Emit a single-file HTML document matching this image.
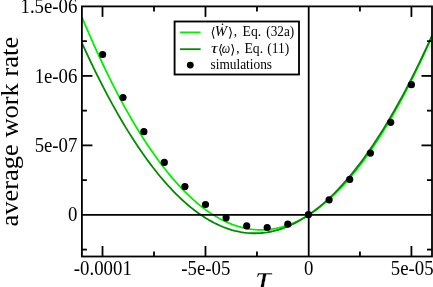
<!DOCTYPE html>
<html><head><meta charset="utf-8"><title>plot</title>
<style>
html,body{margin:0;padding:0;background:#fff;}
body{width:433px;height:287px;overflow:hidden;position:relative;}
svg{position:absolute;left:0;top:0;display:block;}
text{font-family:"Liberation Serif","DejaVu Serif",serif;fill:#000;}
.tk{font-size:18.8px;}
.lg{font-size:13px;}
</style></head><body>
<svg width="433" height="287" viewBox="0 0 433 287">
<rect x="0" y="0" width="433" height="287" fill="#fff"/>
<defs><clipPath id="c"><rect x="81.9" y="6.4" width="350.1" height="250.1"/></clipPath></defs>

<g clip-path="url(#c)" fill="none" stroke-width="1.8" stroke-linejoin="round">
<path d="M82.03,17.37 L84.97,24.35 L87.91,31.22 L90.86,37.96 L93.80,44.59 L96.74,51.09 L99.68,57.48 L102.62,63.75 L105.56,69.90 L108.50,75.94 L111.44,81.85 L114.38,87.65 L117.33,93.33 L120.27,98.89 L123.21,104.34 L126.15,109.67 L129.09,114.88 L132.03,119.97 L134.97,124.95 L137.91,129.81 L140.85,134.55 L143.80,139.18 L146.74,143.69 L149.68,148.08 L152.62,152.36 L155.56,156.53 L158.50,160.57 L161.44,164.50 L164.38,168.32 L167.33,172.02 L170.27,175.61 L173.21,179.07 L176.15,182.43 L179.09,185.67 L182.03,188.79 L184.97,191.80 L187.91,194.69 L190.85,197.47 L193.80,200.14 L196.74,202.69 L199.68,205.12 L202.62,207.44 L205.56,209.65 L208.50,211.74 L211.44,213.72 L214.38,215.58 L217.32,217.33 L220.27,218.96 L223.21,220.48 L226.15,221.89 L229.09,223.18 L232.03,224.36 L234.97,225.42 L237.91,226.37 L240.85,227.21 L243.79,227.93 L246.74,228.54 L249.68,229.03 L252.62,229.41 L255.56,229.68 L258.50,229.83 L261.44,229.87 L264.38,229.79 L267.32,229.60 L270.27,229.30 L273.21,228.88 L276.15,228.35 L279.09,227.71 L282.03,226.95 L284.97,226.08 L287.91,225.09 L290.85,223.99 L293.79,222.78 L296.74,221.45 L299.68,220.01 L302.62,218.45 L305.56,216.78 L308.50,215.00 L311.44,213.10 L314.38,211.09 L317.32,208.96 L320.26,206.72 L323.21,204.37 L326.15,201.90 L329.09,199.32 L332.03,196.62 L334.97,193.81 L337.91,190.88 L340.85,187.84 L343.79,184.68 L346.73,181.41 L349.68,178.02 L352.62,174.52 L355.56,170.90 L358.50,167.17 L361.44,163.33 L364.38,159.37 L367.32,155.29 L370.26,151.09 L373.21,146.79 L376.15,142.36 L379.09,137.82 L382.03,133.17 L384.97,128.39 L387.91,123.51 L390.85,118.50 L393.79,113.38 L396.73,108.14 L399.68,102.79 L402.62,97.32 L405.56,91.73 L408.50,86.03 L411.44,80.21 L414.38,74.27 L417.32,68.21 L420.26,62.04 L423.20,55.75 L426.15,49.34 L429.09,42.81 L432.03,36.16" stroke="#00f000"/>
<path d="M82.03,43.22 L84.97,49.66 L87.91,55.98 L90.86,62.20 L93.80,68.31 L96.74,74.30 L99.68,80.18 L102.62,85.95 L105.56,91.61 L108.50,97.16 L111.44,102.60 L114.38,107.92 L117.33,113.13 L120.27,118.24 L123.21,123.23 L126.15,128.11 L129.09,132.87 L132.03,137.53 L134.97,142.08 L137.91,146.51 L140.85,150.84 L143.80,155.05 L146.74,159.15 L149.68,163.14 L152.62,167.02 L155.56,170.79 L158.50,174.45 L161.44,178.00 L164.38,181.44 L167.33,184.76 L170.27,187.98 L173.21,191.08 L176.15,194.08 L179.09,196.96 L182.03,199.74 L184.97,202.40 L187.91,204.95 L190.85,207.39 L193.80,209.73 L196.74,211.95 L199.68,214.06 L202.62,216.06 L205.56,217.95 L208.50,219.73 L211.44,221.40 L214.38,222.96 L217.32,224.41 L220.27,225.75 L223.21,226.98 L226.15,228.10 L229.09,229.11 L232.03,230.02 L234.97,230.81 L237.91,231.49 L240.85,232.06 L243.79,232.52 L246.74,232.87 L249.68,233.12 L252.62,233.25 L255.56,233.27 L258.50,233.19 L261.44,232.99 L264.38,232.68 L267.32,232.27 L270.27,231.75 L273.21,231.11 L276.15,230.37 L279.09,229.52 L282.03,228.56 L284.97,227.49 L287.91,226.31 L290.85,225.02 L293.79,223.62 L296.74,222.12 L299.68,220.50 L302.62,218.78 L305.56,216.94 L308.50,215.00 L311.44,212.95 L314.38,210.79 L317.32,208.52 L320.26,206.14 L323.21,203.66 L326.15,201.06 L329.09,198.36 L332.03,195.55 L334.97,192.63 L337.91,189.60 L340.85,186.46 L343.79,183.22 L346.73,179.86 L349.68,176.40 L352.62,172.83 L355.56,169.15 L358.50,165.36 L361.44,161.47 L364.38,157.47 L367.32,153.35 L370.26,149.13 L373.21,144.81 L376.15,140.37 L379.09,135.83 L382.03,131.18 L384.97,126.42 L387.91,121.55 L390.85,116.57 L393.79,111.49 L396.73,106.30 L399.68,101.00 L402.62,95.60 L405.56,90.08 L408.50,84.46 L411.44,78.73 L414.38,72.90 L417.32,66.96 L420.26,60.90 L423.20,54.75 L426.15,48.48 L429.09,42.11 L432.03,35.63" stroke="#008b00"/>
</g>
<g stroke="#000" stroke-width="1.8" fill="none">
<line x1="81.9" y1="214.85" x2="432.0" y2="214.85"/>
<line x1="308.7" y1="6.4" x2="308.7" y2="256.5"/>
</g>
<g fill="#000">
<circle cx="102.6" cy="54.5" r="3.6"/>
<circle cx="123.0" cy="97.5" r="3.6"/>
<circle cx="143.9" cy="131.7" r="3.6"/>
<circle cx="164.3" cy="162.4" r="3.6"/>
<circle cx="184.9" cy="186.6" r="3.6"/>
<circle cx="205.5" cy="204.5" r="3.6"/>
<circle cx="226.1" cy="217.8" r="3.6"/>
<circle cx="246.7" cy="225.9" r="3.6"/>
<circle cx="267.2" cy="227.5" r="3.6"/>
<circle cx="287.8" cy="224.2" r="3.6"/>
<circle cx="308.4" cy="214.7" r="3.6"/>
<circle cx="329.1" cy="199.8" r="3.6"/>
<circle cx="349.7" cy="179.4" r="3.6"/>
<circle cx="370.4" cy="153.1" r="3.6"/>
<circle cx="390.7" cy="122.3" r="3.6"/>
<circle cx="411.4" cy="84.7" r="3.6"/>
</g>
<g stroke="#000" stroke-width="1.8" fill="none">
<rect x="81.9" y="6.4" width="350.10" height="250.10"/>
<line x1="102.51" y1="256.5" x2="102.51" y2="246.0"/>
<line x1="102.51" y1="6.4" x2="102.51" y2="16.9"/>
<line x1="153.99" y1="256.5" x2="153.99" y2="251.5"/>
<line x1="153.99" y1="6.4" x2="153.99" y2="11.4"/>
<line x1="205.48" y1="256.5" x2="205.48" y2="246.0"/>
<line x1="205.48" y1="6.4" x2="205.48" y2="16.9"/>
<line x1="256.96" y1="256.5" x2="256.96" y2="251.5"/>
<line x1="256.96" y1="6.4" x2="256.96" y2="11.4"/>
<line x1="359.94" y1="256.5" x2="359.94" y2="251.5"/>
<line x1="359.94" y1="6.4" x2="359.94" y2="11.4"/>
<line x1="411.42" y1="256.5" x2="411.42" y2="246.0"/>
<line x1="411.42" y1="6.4" x2="411.42" y2="16.9"/>
<line x1="81.9" y1="249.59" x2="86.9" y2="249.59"/>
<line x1="432.0" y1="249.59" x2="427.0" y2="249.59"/>
<line x1="81.9" y1="180.11" x2="86.9" y2="180.11"/>
<line x1="432.0" y1="180.11" x2="427.0" y2="180.11"/>
<line x1="81.9" y1="145.38" x2="92.4" y2="145.38"/>
<line x1="432.0" y1="145.38" x2="421.5" y2="145.38"/>
<line x1="81.9" y1="110.64" x2="86.9" y2="110.64"/>
<line x1="432.0" y1="110.64" x2="427.0" y2="110.64"/>
<line x1="81.9" y1="75.91" x2="92.4" y2="75.91"/>
<line x1="432.0" y1="75.91" x2="421.5" y2="75.91"/>
<line x1="81.9" y1="41.17" x2="86.9" y2="41.17"/>
<line x1="432.0" y1="41.17" x2="427.0" y2="41.17"/>
</g>
<text class="tk" transform="translate(77.4,13.03) scale(1,1.07)" text-anchor="end">1.5e-06</text>
<text class="tk" transform="translate(77.4,82.51) scale(1,1.07)" text-anchor="end">1e-06</text>
<text class="tk" transform="translate(77.4,151.98) scale(1,1.07)" text-anchor="end">5e-07</text>
<text class="tk" transform="translate(77.4,221.45) scale(1,1.07)" text-anchor="end">0</text>
<text class="tk" transform="translate(102.81,274.8) scale(1,1.07)" text-anchor="middle">-0.0001</text>
<text class="tk" transform="translate(205.78,274.8) scale(1,1.07)" text-anchor="middle">-5e-05</text>
<text class="tk" transform="translate(308.75,274.8) scale(1,1.07)" text-anchor="middle">0</text>
<text class="tk" transform="translate(412.22,274.8) scale(1,1.07)" text-anchor="middle">5e-05</text>
<text transform="translate(17.9,226.5) rotate(-90) scale(1,0.95)" font-size="26.5px">average work rate</text>
<text transform="translate(255.8,290.8) scale(1.26,1.12)" font-size="34px" font-style="italic" stroke="#fff" stroke-width="0.3">τ</text>
<rect x="174.6" y="21.5" width="124.4" height="53.0" fill="#fff" stroke="#000" stroke-width="1.85"/>
<line x1="180" y1="32.4" x2="200.6" y2="32.4" stroke="#00f000" stroke-width="1.8"/>
<line x1="180" y1="49.2" x2="200.6" y2="49.2" stroke="#008b00" stroke-width="1.8"/>
<circle cx="190.3" cy="65.1" r="3.45" fill="#000"/>
<text class="lg" transform="translate(210.6,36.9) scale(1,1.02)">⟨</text>
<text class="lg" transform="translate(214.7,36.3) scale(1,1.13)" textLength="12.3" lengthAdjust="spacingAndGlyphs" font-style="italic">Ẇ</text>
<text class="lg" transform="translate(228.0,36.9) scale(1,1.02)">⟩</text>
<text class="lg" transform="translate(233.8,36.3) scale(1,1.13)">,</text>
<text class="lg" transform="translate(242.6,36.3) scale(1,1.13)" textLength="18.6" lengthAdjust="spacingAndGlyphs">Eq.</text>
<text class="lg" transform="translate(266.3,36.3) scale(1,1.13)" textLength="27.9" lengthAdjust="spacingAndGlyphs">(32a)</text>
<text class="lg" transform="translate(211.0,53.0) scale(1,1.13)" textLength="6.6" lengthAdjust="spacingAndGlyphs" font-style="italic">τ</text>
<text class="lg" transform="translate(218.0,53.6) scale(1,1.02)">⟨</text>
<text class="lg" transform="translate(221.8,53.0) scale(1,1.13)" textLength="8.4" lengthAdjust="spacingAndGlyphs" font-style="italic">ω</text>
<text class="lg" transform="translate(230.2,53.6) scale(1,1.02)">⟩</text>
<text class="lg" transform="translate(236.3,53.0) scale(1,1.13)">,</text>
<text class="lg" transform="translate(244.5,53.0) scale(1,1.13)" textLength="18.6" lengthAdjust="spacingAndGlyphs">Eq.</text>
<text class="lg" transform="translate(267.3,53.0) scale(1,1.13)" textLength="21.9" lengthAdjust="spacingAndGlyphs">(11)</text>
<text class="lg" transform="translate(210.5,69.3) scale(1,1.13)" textLength="61.5" lengthAdjust="spacingAndGlyphs">simulations</text>
</svg></body></html>
